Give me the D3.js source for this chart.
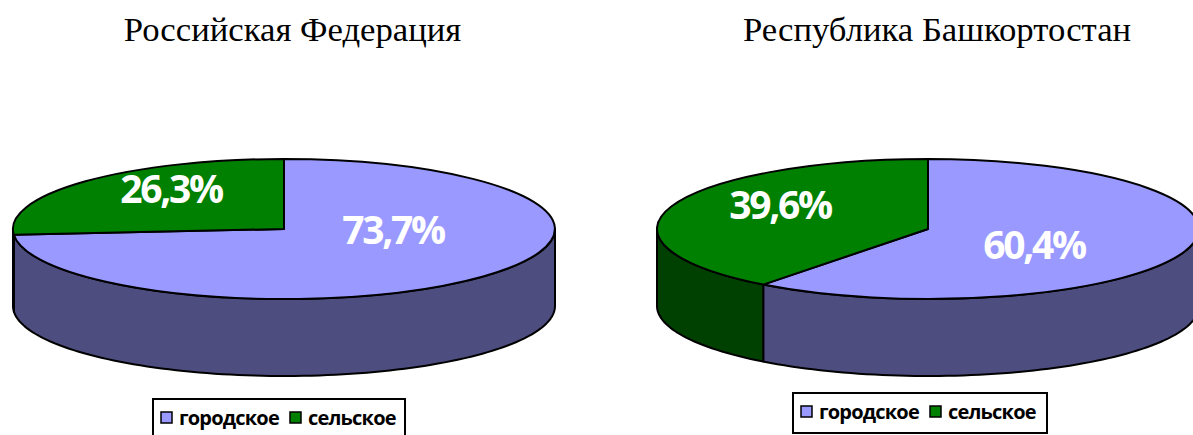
<!DOCTYPE html>
<html>
<head>
<meta charset="utf-8">
<script src="https://cdn.jsdelivr.net/npm/d3@7"></script>
<style>
  html, body { margin: 0; padding: 0; background: #fff; overflow: hidden; }
  svg { display: block; }
</style>
</head>
<body>
<script>
const regions = ["Российская Федерация", "Республика Башкортостан"];
const categories = ["городское", "сельское"];
const urbanValues = [73.7, 60.4];
const ruralValues = [26.3, 39.6];

const width = 1193;
const height = 435;

const colorTop = d3.scaleOrdinal().domain(categories).range(["#9999ff", "#008000"]);
const colorSide = d3.scaleOrdinal().domain(categories).range(["#4d4d80", "#004000"]);

// layout of each panel, drawn by hand to follow the picture
const panels = [
  { cx: 284, titleX: 292.5, legendX: 153, legendY: 399, legendW: 252, legendH: 40, labels: [[393, 230], [171, 189]] },
  { cx: 928, titleX: 937, legendX: 793, legendY: 393, legendW: 254, legendH: 40, labels: [[1034, 245], [780, 205]] },
];

const cy = 229;
const rx = 271;
const ry = 70;
const depth = 77;

const svg = d3
  .select("body")
  .append("svg")
  .attr("width", width)
  .attr("height", height)
  .attr("viewBox", `0 0 ${width} ${height}`);

const pie = d3.pie().sort(null);

const vizPanel = (region, values, panel) => {
  const g = svg.append("g");
  const slices = pie(values);

  const scaleX = d3.scaleLinear().domain([-1, 1]).range([panel.cx - rx, panel.cx + rx]);
  const scaleY = d3.scaleLinear().domain([-1, 1]).range([cy - ry, cy + ry]);
  const pointAt = (a, drop = 0) => [scaleX(Math.sin(a)), scaleY(-Math.cos(a)) + drop];

  g.append("text")
    .attr("x", panel.titleX)
    .attr("y", 41)
    .attr("text-anchor", "middle")
    .attr("font-family", "'Liberation Serif', serif")
    .attr("font-size", 34.7)
    .attr("fill", "#000")
    .text(region);

  // wall: only the part of a slice that faces the viewer
  const line = d3.line();
  const wall = (start, end) => {
    const from = Math.max(start, Math.PI / 2);
    const to = Math.min(end, (3 * Math.PI) / 2);
    if (from >= to) return null;
    const angles = d3.range(from, to, 0.03).concat([to]);
    const upper = angles.map((a) => pointAt(a));
    const lower = angles.slice().reverse().map((a) => pointAt(a, depth));
    return line(upper.concat(lower)) + "Z";
  };

  g.append("g")
    .selectAll("path")
    .data(slices)
    .enter()
    .append("path")
    .attr("d", (d) => wall(d.startAngle, d.endAngle))
    .attr("fill", (d, i) => colorSide(categories[i]))
    .attr("stroke", "#000")
    .attr("stroke-width", 2)
    .attr("stroke-linejoin", "round");

  const arc = d3.arc().innerRadius(0).outerRadius(1);

  g.append("g")
    .attr("transform", `translate(${panel.cx} ${cy}) scale(${rx} ${ry})`)
    .selectAll("path")
    .data(slices)
    .enter()
    .append("path")
    .attr("d", arc)
    .attr("fill", (d, i) => colorTop(categories[i]))
    .attr("stroke", "#000")
    .attr("stroke-width", 2)
    .attr("stroke-linejoin", "round")
    .attr("vector-effect", "non-scaling-stroke");

  g.append("g")
    .selectAll("text")
    .data(slices)
    .enter()
    .append("text")
    .attr("x", (d, i) => panel.labels[i][0])
    .attr("y", (d, i) => panel.labels[i][1])
    .attr("dy", "0.36em")
    .attr("text-anchor", "middle")
    .attr("font-family", "'Open Sans', sans-serif")
    .attr("font-weight", 700)
    .attr("font-size", 39)
    .attr("letter-spacing", -2.3)
    .attr("fill", "#fff")
    .text((d) => `${d.value.toFixed(1).replace(".", ",")}%`);

  const legend = g.append("g").attr("transform", `translate(${panel.legendX} ${panel.legendY})`);

  legend
    .append("rect")
    .attr("width", panel.legendW)
    .attr("height", panel.legendH)
    .attr("fill", "#fff")
    .attr("stroke", "#000")
    .attr("stroke-width", 2);

  const keyX = d3.scaleOrdinal().domain(categories).range([8, 137]);

  const key = legend
    .selectAll("g")
    .data(categories)
    .enter()
    .append("g")
    .attr("transform", (d) => `translate(${keyX(d)} 13)`);

  key
    .append("rect")
    .attr("width", 11)
    .attr("height", 11)
    .attr("fill", (d) => colorTop(d))
    .attr("stroke", "#000")
    .attr("stroke-width", 1.5);

  key
    .append("text")
    .attr("x", 18)
    .attr("y", 6)
    .attr("dy", "0.36em")
    .attr("font-family", "'Open Sans', sans-serif")
    .attr("font-weight", 700)
    .attr("font-size", 20)
    .attr("letter-spacing", -0.8)
    .attr("fill", "#000")
    .text((d) => d);
};

regions.forEach((region, i) => {
  vizPanel(region, [urbanValues[i], ruralValues[i]], panels[i]);
});
</script>
</body>
</html>
